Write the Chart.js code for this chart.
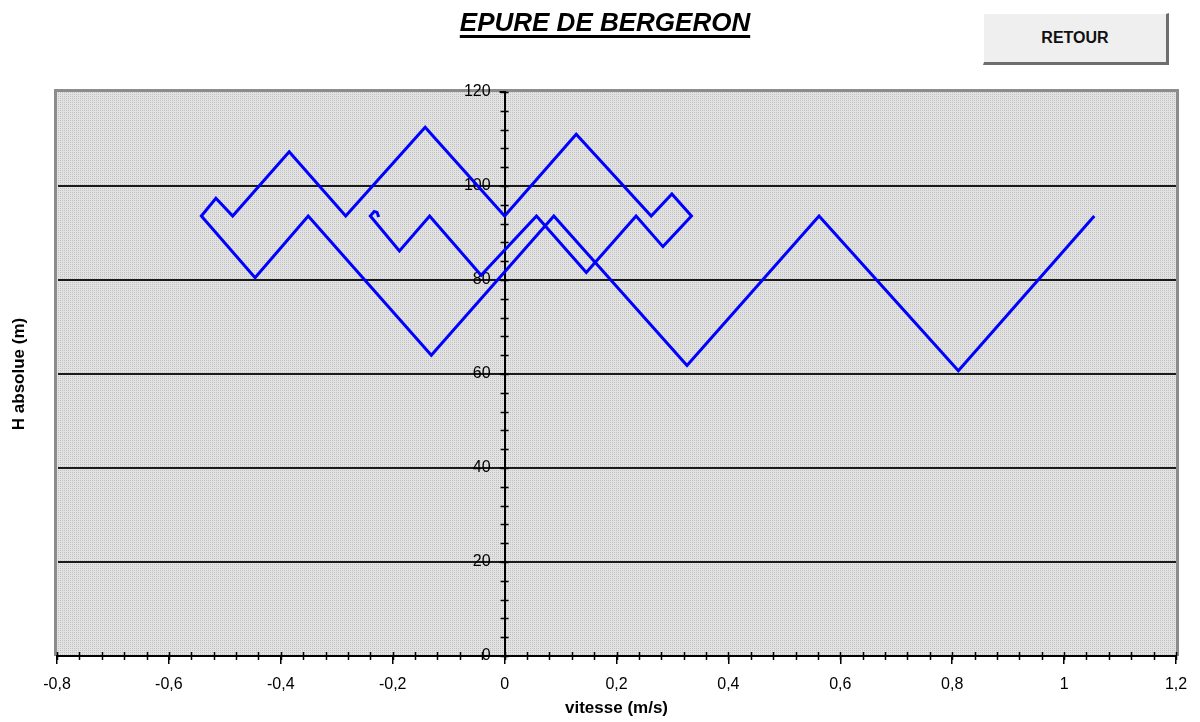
<!DOCTYPE html>
<html>
<head>
<meta charset="utf-8">
<script src="https://cdn.jsdelivr.net/npm/chart.js@4.4.1/dist/chart.umd.min.js"></script>
<style>
  body { margin: 0; background: #fff; font-family: "Liberation Sans", Arial, sans-serif; }
  #wrap { position: absolute; left: 0; top: 0; width: 1200px; height: 722px; }
  #titre {
    position: absolute; left: 455px; top: 7px; width: 300px; text-align: center;
    font-size: 26px; font-weight: bold; font-style: italic; color: #000;
    text-decoration: underline; text-decoration-thickness: 3px; text-underline-offset: 4px;
  }
  #retour {
    position: absolute; left: 983px; top: 13px; width: 182px; height: 48px;
    background: #efefef; border-top: 1px solid #fff; border-left: 1px solid #fff;
    border-right: 3px solid #6e6e6e; border-bottom: 3px solid #6e6e6e;
    font-size: 16px; font-weight: bold; color: #111; text-align: center; line-height: 48px;
  }
</style>
</head>
<body>
<div id="wrap"><canvas id="bergeron"></canvas></div>
<div id="titre">EPURE DE BERGERON</div>
<div id="retour">RETOUR</div>
<script>
// points de l'epure (vitesse m/s, charge m)
var vitesse = [1.054, 0.811, 0.562, 0.326, 0.088, -0.131, -0.351, -0.446, -0.542, -0.516,
  -0.486, -0.385, -0.284, -0.142, 0.0, 0.128, 0.262, 0.299, 0.334, 0.283,
  0.235, 0.146, 0.057, -0.042, -0.134, -0.188, -0.240, -0.233, -0.228, -0.225];
var hauteur = [93.6, 60.7, 93.6, 61.8, 93.6, 64.0, 93.6, 80.5, 93.6, 97.4,
  93.6, 107.3, 93.6, 112.5, 93.6, 111.0, 93.6, 98.3, 93.6, 87.1,
  93.6, 81.6, 93.6, 81.0, 93.6, 86.2, 93.6, 94.6, 94.4, 93.4];
var xTicks = [-0.8, -0.6, -0.4, -0.2, 0, 0.2, 0.4, 0.6, 0.8, 1, 1.2];
var yTicks = [0, 20, 40, 60, 80, 100, 120];

var points = [];
for (var i = 0; i < vitesse.length; i++) {
  points.push({x: vitesse[i], y: hauteur[i]});
}

function virgule(v) {
  return String(Math.round(v * 100) / 100).replace('.', ',');
}

// motif tramé du fond
var motif = document.createElement('canvas');
motif.width = 2; motif.height = 2;
var mc = motif.getContext('2d');
mc.fillStyle = '#e2e2e2'; mc.fillRect(0, 0, 2, 2);
mc.fillStyle = '#c2c2c2'; mc.fillRect(0, 0, 1, 1);

var fond = {
  id: 'fond',
  afterLayout: function(chart) {
    // l'axe des H passe par vitesse = 0
    var sy = chart.scales.y;
    var x0 = chart.scales.x.getPixelForValue(0);
    sy.left = x0 - 80;
    sy.right = x0;
    sy.width = 80;
  },
  beforeDraw: function(chart) {
    var c = chart.ctx, a = chart.chartArea;
    c.save();
    c.fillStyle = c.createPattern(motif, 'repeat');
    c.fillRect(a.left, a.top, a.right - a.left, a.bottom - a.top);
    c.strokeStyle = '#8c8c8c';
    c.lineWidth = 3;
    c.beginPath();
    c.moveTo(a.left - 1.5, a.bottom);
    c.lineTo(a.left - 1.5, a.top - 1.5);
    c.lineTo(a.right + 1.5, a.top - 1.5);
    c.lineTo(a.right + 1.5, a.bottom);
    c.stroke();
    c.restore();
  },
  afterDraw: function(chart) {
    // petites graduations
    var c = chart.ctx, sx = chart.scales.x, sy = chart.scales.y;
    var x0 = sx.getPixelForValue(0), y0 = sy.getPixelForValue(0);
    c.save();
    c.strokeStyle = '#000';
    c.lineWidth = 1.5;
    c.beginPath();
    for (var k = 0; k <= 50; k++) {
      var px = Math.round(sx.getPixelForValue(-0.8 + k * 0.04)) + 0.5;
      c.moveTo(px, y0 - 4);
      c.lineTo(px, y0 + 4);
    }
    for (var j = 0; j <= 30; j++) {
      var py = Math.round(sy.getPixelForValue(j * 4)) + 0.5;
      c.moveTo(x0 - 4, py);
      c.lineTo(x0 + 4, py);
    }
    c.stroke();
    c.restore();
  }
};

new Chart(document.getElementById('bergeron'), {
  type: 'scatter',
  data: {
    datasets: [{
      label: 'Epure',
      data: points,
      showLine: true,
      borderColor: '#0000ff',
      borderWidth: 3,
      pointRadius: 0,
      fill: false,
      tension: 0
    }]
  },
  options: {
    responsive: true,
    maintainAspectRatio: false,
    animation: false,
    layout: { padding: { top: 92, right: 24, left: 0, bottom: 0 } },
    plugins: {
      legend: { display: false },
      tooltip: { enabled: false }
    },
    scales: {
      x: {
        type: 'linear',
        position: 'bottom',
        min: -0.8,
        max: 1.2,
        afterBuildTicks: function(s) { s.ticks = xTicks.map(function(v) { return {value: v}; }); },
        afterFit: function(s) { s.height = 66; },
        grid: { drawOnChartArea: false, color: '#000', tickColor: '#000', tickLength: 8, lineWidth: 1.5 },
        border: { color: '#000', width: 2 },
        ticks: {
          color: '#000',
          font: { family: 'Liberation Sans', size: 16 },
          padding: 11,
          maxRotation: 0,
          callback: function(v) { return virgule(v); }
        },
        title: {
          display: true,
          text: 'vitesse (m/s)',
          color: '#000',
          font: { family: 'Liberation Sans', size: 17, weight: 'bold' },
          padding: { top: 0, bottom: 3 }
        }
      },
      y: {
        type: 'linear',
        position: 'left',
        weight: 1,
        min: 0,
        max: 120,
        afterBuildTicks: function(s) { s.ticks = yTicks.map(function(v) { return {value: v}; }); },
        afterFit: function(s) { s.width = 0; },
        grid: {
          color: function(ctx) { return ctx.tick && ctx.tick.value === 120 ? 'rgba(0,0,0,0)' : '#1a1a1a'; },
          lineWidth: 2,
          tickColor: '#000',
          tickLength: 5
        },
        border: { color: '#000', width: 2 },
        ticks: {
          color: '#000',
          font: { family: 'Liberation Sans', size: 16 },
          padding: 9,
          callback: function(v) { return virgule(v); }
        }
      },
      yt: {
        type: 'linear',
        position: 'left',
        weight: 2,
        min: 0,
        max: 1,
        afterFit: function(s) { s.width = 57; },
        grid: { display: false },
        border: { display: false },
        ticks: { display: false },
        title: {
          display: true,
          text: 'H absolue (m)',
          color: '#000',
          font: { family: 'Liberation Sans', size: 17, weight: 'bold' },
          padding: { top: 9, bottom: 0 }
        }
      }
    }
  },
  plugins: [fond]
});
</script>
</body>
</html>
